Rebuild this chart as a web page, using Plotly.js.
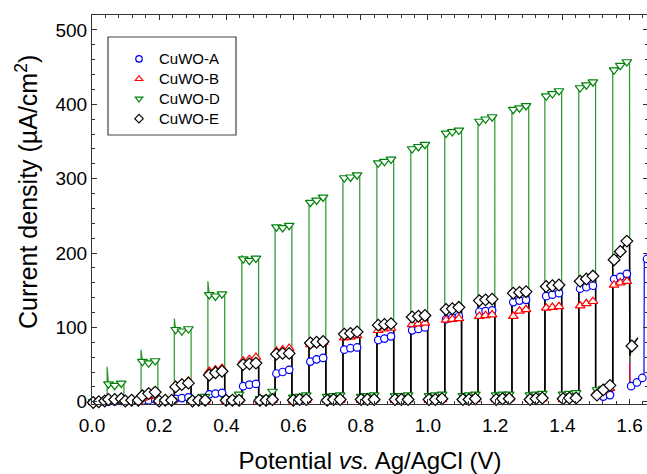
<!DOCTYPE html>
<html>
<head>
<meta charset="utf-8">
<script src="https://cdn.plot.ly/plotly-3.0.1.min.js"></script>
<style>
  html, body { margin: 0; padding: 0; overflow: hidden; background: #fff; }
  #chart { width: 650px; height: 474px; }
</style>
</head>
<body>
<div id="chart"></div>
<script>
// ---------- data ----------
const seriesNames = ['CuWO-A', 'CuWO-B', 'CuWO-D', 'CuWO-E'];

// light-on / light-off potentials (V) of the 16 chopped pulses
const lightOn  = [0.045, 0.146, 0.245, 0.345, 0.446, 0.545, 0.646, 0.747, 0.848, 0.949, 1.050, 1.149, 1.250, 1.348, 1.449, 1.550];
const lightOff = [0.095, 0.196, 0.295, 0.395, 0.496, 0.595, 0.696, 0.797, 0.898, 0.999, 1.100, 1.199, 1.300, 1.398, 1.499, 1.600];

// current density (uA/cm2): 3 readings per illuminated plateau
const A_on = [[0,0.5,1],[1,2,3],[4,5,6],[10,11,12],[21,23,24],[38,40,43],[54,57,59],[70,72,73],[83,85,88],[96,98,100],[111,113,115],[121,122,123],[134,136,137],[142,144,146],[152,154,156],[165,168,172]];
const B_on = [[1,2,2],[5,7,9],[22,25,28],[41,43,45],[55,57,60],[68,70,72],[77,79,80],[86,87,89],[96,98,99],[104,105,106],[110,111,112],[115,116,117],[115,122,124],[126,127,128],[129,132,135],[157,160,162]];
const D_on = [[24,22,25],[54,52,55],[97,95,98],[144,142,145],[192,190,193],[235,234,237],[268,271,275],[301,302,305],[321,323,326],[340,343,346],[361,363,365],[377,380,383],[393,395,398],[411,414,418],[422,426,430],[446,452,457]];
const E_on = [[3,3,4],[8,11,13],[20,23,25],[36,39,41],[50,51,52],[64,65,65],[79,80,81],[91,92,94],[103,104,105],[114,115,116],[124,125,127],[136,137,138],[146,147,148],[155,156,157],[162,165,169],[191,202,216]];

// transient spike at light-on (null = none)
const D_spike = [47, 70, 112, 162, 197, null, null, null, null, null, null, null, null, null, null, null];

// 3 readings per dark period before each pulse
const A_off = [[0,0,0],[0,1,1],[0,1,1],[1,1,1],[1,1,1],[1,2,2],[2,2,2],[2,2,3],[2,3,3],[3,3,4],[3,4,4],[3,4,4],[4,4,5],[4,5,5],[5,6,6],[10,7,9]];
const B_off = [[-1,0,0],[0,1,1],[0,1,1],[1,1,1],[1,1,2],[1,2,2],[1,2,2],[2,2,2],[2,2,3],[2,3,3],[2,3,3],[3,3,3],[3,3,4],[3,4,4],[3,4,5],[13,15,18]];
const D_off = [[0,0,0],[1,1,1],[1,2,2],[2,3,7],[3,4,10],[4,5,14],[6,7,9],[7,8,9],[7,8,9],[8,8,9],[8,9,10],[8,9,10],[9,10,10],[9,10,11],[10,11,12],[16,18,20]];
const E_off = [[-1,0,1],[1,2,2],[1,2,2],[1,2,2],[2,2,2],[2,2,3],[2,3,3],[2,3,3],[3,3,3],[3,3,3],[3,3,4],[3,3,4],[3,4,4],[3,4,5],[4,5,5],[9,16,22]];

// what each curve does after the last pulse
const A_tailV = [1.601, 1.605, 1.622, 1.638, 1.643, 1.644, 1.652];
const A_tailI = [20, 21, 26, 32, 33, 190, 192];
const A_tailMark = [false, true, true, true, false, false, true];
const B_tailV = [1.601];
const B_tailI = [25];
const B_tailMark = [false];
const D_tailV = [1.601];
const D_tailI = [52];
const D_tailMark = [false];
const E_tailV = [1.601, 1.607, 1.625];
const E_tailI = [62, 75, 86];
const E_tailMark = [false, true, false];

// ---------- build traces ----------
const markFrac = [0.08, 0.45, 0.84];

function build(onV, offV, spike, tailV, tailI, tailMark) {
  const lx = [], ly = [], mx = [], my = [];
  for (let k = 0; k < lightOn.length; k++) {
    const t0 = k === 0 ? 0 : lightOff[k - 1];
    const t1 = lightOn[k];
    const d = offV[k];
    lx.push(t0); ly.push(d[0]);
    d.forEach((v, i) => {
      const t = t0 + markFrac[i] * (t1 - t0);
      lx.push(t); ly.push(v); mx.push(t); my.push(v);
    });
    lx.push(t1); ly.push(d[2]);
    const p = onV[k];
    const t2 = lightOff[k];
    lx.push(t1); ly.push(spike && spike[k] != null ? spike[k] : p[0]);
    p.forEach((v, i) => {
      const t = t1 + markFrac[i] * (t2 - t1);
      lx.push(t); ly.push(v); mx.push(t); my.push(v);
    });
    lx.push(t2); ly.push(p[2]);
  }
  tailV.forEach((t, i) => {
    lx.push(t); ly.push(tailI[i]);
    if (tailMark[i]) { mx.push(t); my.push(tailI[i]); }
  });
  return { lx, ly, mx, my };
}

const FONT = 'Arial, "Liberation Sans", sans-serif';

const defs = [
  { name: seriesNames[0], d: build(A_on, A_off, null, A_tailV, A_tailI, A_tailMark), line: '#0000ff', lw: 1.2, mk: '#0000ff', sym: 'circle', size: 7.5 },
  { name: seriesNames[1], d: build(B_on, B_off, null, B_tailV, B_tailI, B_tailMark), line: '#ff0000', lw: 1.2, mk: '#ff0000', sym: 'triangle-up', size: 8.5 },
  { name: seriesNames[2], d: build(D_on, D_off, D_spike, D_tailV, D_tailI, D_tailMark), line: '#2a962a', lw: 1.2, mk: '#00820a', sym: 'triangle-down', size: 8.5 },
  { name: seriesNames[3], d: build(E_on, E_off, null, E_tailV, E_tailI, E_tailMark), line: '#000000', lw: 1.5, mk: '#000000', sym: 'diamond', size: 9 }
];

const traces = [];
defs.forEach(s => {
  traces.push({
    x: s.d.lx, y: s.d.ly, type: 'scatter', mode: 'lines',
    line: { color: s.line, width: s.lw }, showlegend: false, hoverinfo: 'skip'
  });
});
defs.forEach(s => {
  traces.push({
    x: s.d.mx, y: s.d.my, type: 'scatter', mode: 'markers', name: s.name,
    marker: { symbol: s.sym, size: s.size, color: '#ffffff', line: { color: s.mk, width: 1.2 } },
    showlegend: false, cliponaxis: false
  });
});
// legend entries (symbols only, smaller as in the reference)
defs.forEach(s => {
  traces.push({
    x: [null], y: [null], type: 'scatter', mode: 'markers',
    name: '<span style="font-size:15px">' + s.name + '</span>',
    marker: { symbol: s.sym, size: 6.5, color: '#ffffff', line: { color: s.mk, width: 1.2 } },
    showlegend: true
  });
});

const axisCommon = {
  showline: true, linecolor: '#333', linewidth: 1, mirror: 'allticks',
  ticks: 'inside', ticklen: 5, tickwidth: 1, tickcolor: '#333',
  showgrid: false, zeroline: false,
  tickfont: { family: FONT, size: 19, color: '#000' }
};

const layout = {
  width: 650, height: 474,
  margin: { l: 92, r: 2, t: 15, b: 70 },
  paper_bgcolor: '#fff', plot_bgcolor: '#fff',
  font: { family: FONT, color: '#000' },
  xaxis: Object.assign({}, axisCommon, {
    range: [0, 1.655], tick0: 0, dtick: 0.2, tickformat: '.1f',
    ticklabelstandoff: 4,
    minor: { dtick: 0.04, ticks: 'inside', ticklen: 3, tickcolor: '#333', tickwidth: 1 },
    title: { text: 'Potential <i>vs.</i> Ag/AgCl (V)', font: { family: FONT, size: 24 }, standoff: 20 }
  }),
  yaxis: Object.assign({}, axisCommon, {
    range: [-3, 520], tick0: 0, dtick: 100,
    minor: { dtick: 20, ticks: 'inside', ticklen: 3, tickcolor: '#333', tickwidth: 1 }
  }),
  annotations: [{
    xref: 'paper', yref: 'paper', x: -0.117, y: 0.545,
    xanchor: 'center', yanchor: 'middle', showarrow: false, textangle: -90,
    text: 'Current density (µA/cm<sup>2</sup>)',
    font: { family: FONT, size: 25, color: '#000' }
  }],
  showlegend: true,
  legend: {
    x: 0.0486, y: 0.9254, xanchor: 'left', yanchor: 'top',
    bgcolor: 'rgba(0,0,0,0)', borderwidth: 0,
    font: { family: FONT, size: 13, color: '#000' },
    tracegroupgap: 0
  },
  shapes: [{
    type: 'rect', xref: 'paper', yref: 'paper',
    x0: 0.0288, x1: 0.259, y0: 0.6915, y1: 0.9434,
    line: { color: '#444', width: 1.2 }, fillcolor: 'rgba(0,0,0,0)', layer: 'above'
  }]
};

Plotly.newPlot('chart', traces, layout, { displayModeBar: false, staticPlot: true });
</script>
</body>
</html>
